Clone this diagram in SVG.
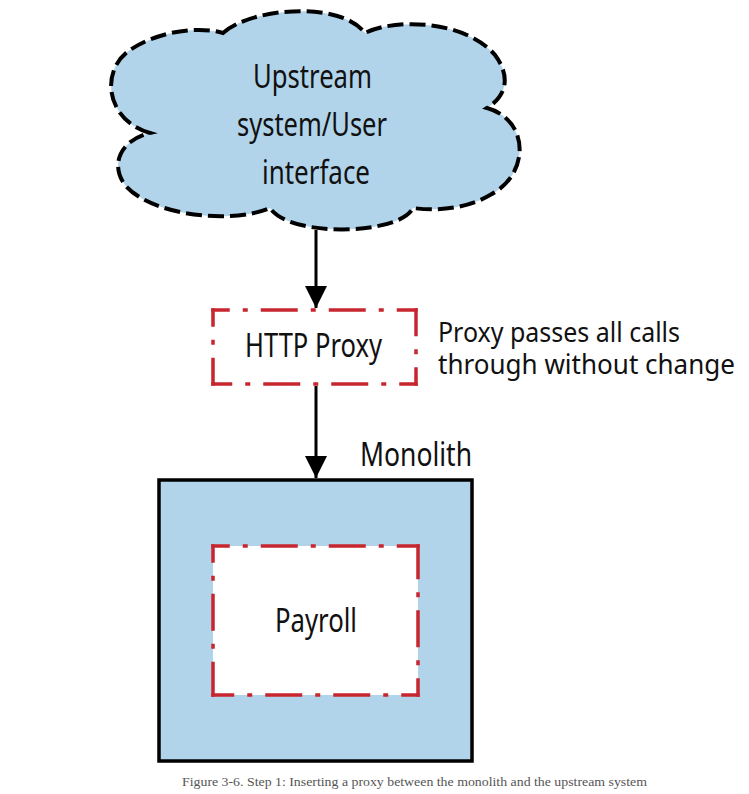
<svg xmlns="http://www.w3.org/2000/svg" width="749" height="794" viewBox="0 0 749 794">
<style>
.lbl{font-family:"Noto Sans","Open Sans","Liberation Sans",sans-serif;font-size:33px;fill:#111}
.note{font-family:"Noto Sans","Open Sans","Liberation Sans",sans-serif;font-size:28px;fill:#111}
.dd{stroke:#c8262f;stroke-width:3.5;fill:none;stroke-dasharray:37 13 5 13;stroke-dashoffset:18.5}
.conn{stroke:#000;stroke-width:3;fill:none}
.cap{font-family:"Liberation Serif","DejaVu Serif",serif;font-size:12px;fill:#555}
</style>
<defs>
<marker id="ah" markerUnits="userSpaceOnUse" markerWidth="24" markerHeight="22" refX="22" refY="11" orient="auto">
<path d="M0,0 L22,11 L0,22 Z" fill="#000"/>
</marker>
</defs>
<rect width="749" height="794" fill="#fff"/>
<g id="upstream">
<path d="M223,33 C250,8 340,0 365,33 C395,18 465,20 495,55 C510,75 508,95 487,108 C530,120 530,175 490,195 C470,207 440,212 413,208 C400,235 290,238 270,208 C230,225 150,215 125,185 C110,165 120,140 150,133 C105,120 100,70 130,50 C155,33 195,25 223,33 Z" fill="#b1d4ea" stroke="#000" stroke-width="4" stroke-dasharray="16 6"/>
<text class="lbl" x="253" y="88" textLength="119" lengthAdjust="spacingAndGlyphs">Upstream</text>
<text class="lbl" x="237" y="136" textLength="150" lengthAdjust="spacingAndGlyphs">system/User</text>
<text class="lbl" x="262" y="184" textLength="108" lengthAdjust="spacingAndGlyphs">interface</text>
</g>
<g id="proxy">
<rect x="213" y="310" width="203" height="74" fill="#fff"/>
<line class="dd" x1="211.25" y1="310" x2="417.75" y2="310"/>
<line class="dd" x1="417.75" y1="384" x2="211.25" y2="384"/>
<line class="dd" x1="213" y1="308.25" x2="213" y2="385.75"/>
<line class="dd" x1="416" y1="385.75" x2="416" y2="308.25"/>
<text class="lbl" x="245" y="357" textLength="137" lengthAdjust="spacingAndGlyphs">HTTP Proxy</text>
</g>
<g id="proxy-note">
<text class="note" x="438" y="342" textLength="242" lengthAdjust="spacingAndGlyphs">Proxy passes all calls</text>
<text class="note" x="438" y="374" textLength="297" lengthAdjust="spacingAndGlyphs">through without change</text>
</g>
<g id="monolith">
<rect x="159" y="480" width="313" height="281" fill="#b1d4ea" stroke="#000" stroke-width="3.5"/>
<text class="lbl" x="360" y="466" textLength="112" lengthAdjust="spacingAndGlyphs">Monolith</text>
</g>
<g id="payroll">
<rect x="213" y="546" width="205" height="149" fill="#fff"/>
<line class="dd" x1="211.25" y1="546" x2="419.75" y2="546"/>
<line class="dd" x1="419.75" y1="695" x2="211.25" y2="695"/>
<line class="dd" x1="213" y1="544.25" x2="213" y2="696.75"/>
<line class="dd" x1="418" y1="696.75" x2="418" y2="544.25"/>
<text class="lbl" x="275" y="632" textLength="82" lengthAdjust="spacingAndGlyphs">Payroll</text>
</g>
<g id="connectors">
<line class="conn" x1="316" y1="230" x2="316" y2="308" marker-end="url(#ah)"/>
<line class="conn" x1="316" y1="386" x2="316" y2="478" marker-end="url(#ah)"/>
</g>
<text class="cap" x="182" y="786" textLength="465" lengthAdjust="spacingAndGlyphs">Figure 3-6. Step 1: Inserting a proxy between the monolith and the upstream system</text>
</svg>
